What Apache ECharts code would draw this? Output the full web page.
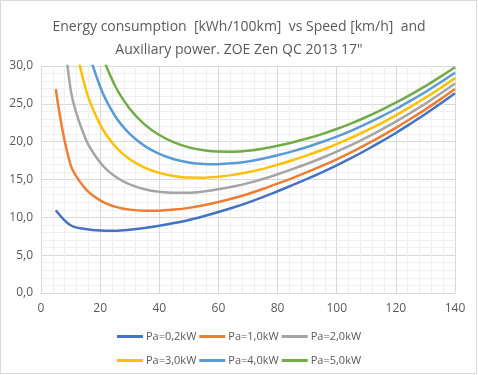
<!DOCTYPE html>
<html>
<head>
    <meta charset="utf-8">
    <title>ECharts</title>
    <script src="https://cdn.jsdelivr.net/npm/echarts@6/dist/echarts.min.js"></script>
    <style>
        html, body { margin: 0; padding: 0; background: #fff; }
    </style>
</head>
<body>
    <div id="main" style="width: 478px;height:375px;"></div>
    <script type="text/javascript">
        // speed [km/h]
        var speed = [5, 10, 15, 20, 25, 30, 35, 40, 45, 50, 55, 60, 65, 70, 75, 80, 85, 90, 95, 100, 105, 110, 115, 120, 125, 130, 135, 140];

        // consumption [kWh/100km], values above 30 are outside the plot (clipped)
        var pa02 = [10.95, 8.95, 8.45, 8.25, 8.22, 8.35, 8.58, 8.88, 9.24, 9.65, 10.15, 10.7, 11.3, 11.95, 12.67, 13.45, 14.25, 15.08, 15.95, 16.87, 17.85, 18.9, 20.0, 21.15, 22.38, 23.65, 25.0, 26.4];
        var pa10 = [26.95, 16.95, 13.78, 12.25, 11.42, 11.02, 10.87, 10.88, 11.02, 11.25, 11.6, 12.03, 12.53, 13.09, 13.74, 14.45, 15.19, 15.97, 16.79, 17.67, 18.61, 19.63, 20.7, 21.82, 23.02, 24.27, 25.59, 26.97];
        var pa20 = [46.95, 26.95, 20.45, 17.25, 15.42, 14.35, 13.72, 13.38, 13.24, 13.25, 13.42, 13.7, 14.07, 14.52, 15.07, 15.7, 16.37, 17.08, 17.84, 18.67, 19.56, 20.54, 21.57, 22.65, 23.82, 25.03, 26.33, 27.69];
        var pa30 = [66.95, 36.95, 27.12, 22.25, 19.42, 17.68, 16.58, 15.88, 15.46, 15.25, 15.24, 15.37, 15.61, 15.95, 16.4, 16.95, 17.54, 18.19, 18.9, 19.67, 20.52, 21.45, 22.43, 23.48, 24.62, 25.8, 27.07, 28.4];
        var pa40 = [86.95, 46.95, 33.78, 27.25, 23.42, 21.02, 19.44, 18.38, 17.68, 17.25, 17.06, 17.03, 17.15, 17.38, 17.74, 18.2, 18.72, 19.3, 19.95, 20.67, 21.47, 22.35, 23.3, 24.32, 25.42, 26.57, 27.81, 29.11];
        var pa50 = [106.95, 56.95, 40.45, 32.25, 27.42, 24.35, 22.29, 20.88, 19.91, 19.25, 18.88, 18.7, 18.68, 18.81, 19.07, 19.45, 19.9, 20.41, 21.0, 21.67, 22.42, 23.26, 24.17, 25.15, 26.22, 27.34, 28.56, 29.83];

        var seriesNames = ['Pa=0,2kW', 'Pa=1,0kW', 'Pa=2,0kW', 'Pa=3,0kW', 'Pa=4,0kW', 'Pa=5,0kW'];
        var seriesData = [pa02, pa10, pa20, pa30, pa40, pa50];
        var colors = ['#4472C4', '#ED7D31', '#A5A5A5', '#FFC000', '#5B9BD5', '#70AD47'];

        var myChart = echarts.init(document.getElementById('main'));

        var series = seriesNames.map(function (name, i) {
            return {
                name: name,
                type: 'line',
                smooth: 0.35,
                showSymbol: false,
                clip: true,
                lineStyle: { color: colors[i], width: 2.5 },
                itemStyle: { color: colors[i] },
                data: speed.map(function (v, k) { return [v, seriesData[i][k]]; })
            };
        });

        // legend in two rows of three, like the original
        var legendBase = {
            left: 'center',
            itemWidth: 26,
            itemHeight: 3,
            itemGap: 3,
            icon: 'rect',
            textStyle: { color: '#595959', fontSize: 11, fontFamily: 'Open Sans', padding: [0, 0, 0, -2] }
        };

        var option = {
            backgroundColor: '#fff',
            animation: false,
            color: colors,
            title: {
                text: 'Energy consumption  [kWh/100km]  vs Speed [km/h]  and\nAuxiliary power. ZOE Zen QC 2013 17"',
                left: 'center',
                top: 11,
                textStyle: {
                    color: '#595959',
                    fontFamily: 'Open Sans',
                    fontSize: 14,
                    fontWeight: 'normal',
                    lineHeight: 23
                }
            },
            graphic: [{
                type: 'rect',
                shape: { x: 0.5, y: 0.5, width: 476, height: 373 },
                style: { fill: 'none', stroke: '#d9d9d9', lineWidth: 1 },
                silent: true
            }],
            legend: [
                Object.assign({ data: seriesNames.slice(0, 3), top: 326 }, legendBase),
                Object.assign({ data: seriesNames.slice(3), top: 350 }, legendBase)
            ],
            grid: {
                left: 41,
                right: 23,
                top: 66,
                bottom: 82
            },
            xAxis: {
                type: 'value',
                min: 0,
                max: 140,
                interval: 20,
                axisLine: { show: true, lineStyle: { color: '#d9d9d9' } },
                axisTick: { show: false },
                axisLabel: { color: '#595959', fontSize: 12, fontFamily: 'Open Sans', margin: 10 },
                splitLine: { show: true, lineStyle: { color: '#d9d9d9' } },
                minorTick: { show: false, splitNumber: 5 },
                minorSplitLine: { show: true, lineStyle: { color: '#efefef' } }
            },
            yAxis: {
                type: 'value',
                min: 0,
                max: 30,
                interval: 5,
                axisLine: { show: false },
                axisTick: { show: false },
                axisLabel: {
                    color: '#595959', fontSize: 12, fontFamily: 'Open Sans', margin: 8,
                    formatter: function (v) { return v.toFixed(1).replace('.', ','); }
                },
                splitLine: { show: true, lineStyle: { color: '#d9d9d9' } },
                minorTick: { show: false, splitNumber: 5 },
                minorSplitLine: { show: true, lineStyle: { color: '#efefef' } }
            },
            series: series
        };

        myChart.setOption(option);
    </script>
</body>
</html>
